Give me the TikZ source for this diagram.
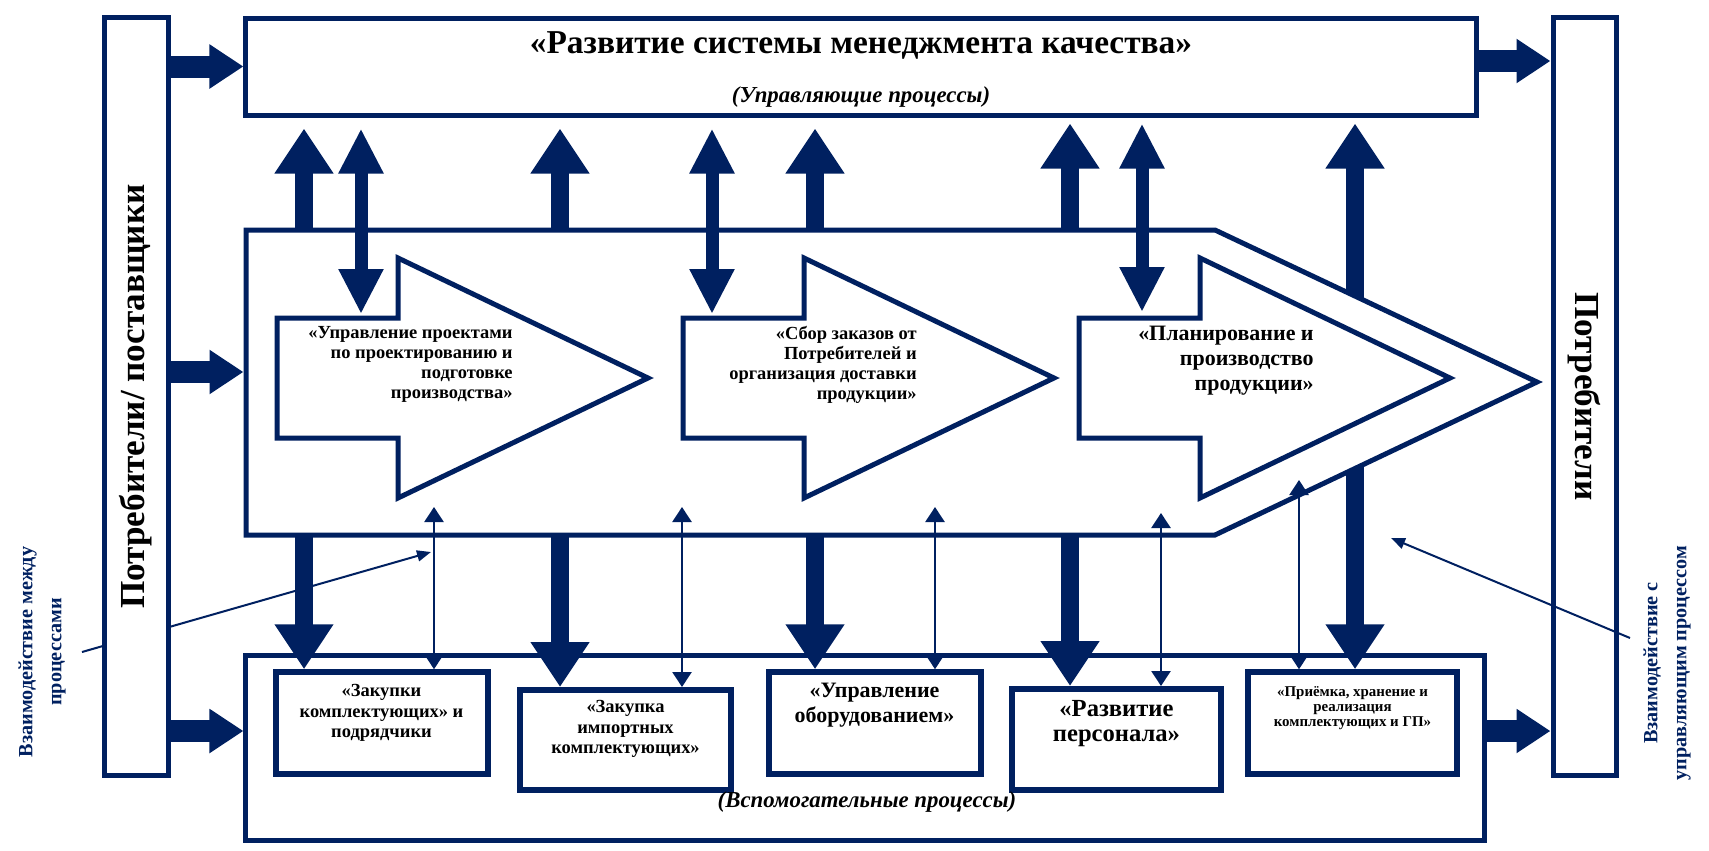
\documentclass[tikz,border=0pt]{standalone}
\usepackage{fontspec}
\setmainfont{Liberation Serif}
\usetikzlibrary{arrows.meta, positioning}

\definecolor{navy}{HTML}{002060}

\begin{document}
\begin{tikzpicture}[x = 0.2mm, y = -0.2mm,
    box/.style = {draw = navy, line width = 1mm, fill = white, inner sep = 0pt},
    inbox/.style = {draw = navy, line width = 1.2mm, fill = white, inner sep = 0pt, minimum width = 42.4mm, minimum height = 20.3mm},
    proc/.style = {draw = navy, line width = 1mm, fill = white, line join = miter},
    fat/.style = {navy, line width = 3.6mm, -{Triangle[width = 11.2mm, length = 9mm]}},
    wide/.style = {navy, line width = 4.4mm, -{Triangle[width = 8.4mm, length = 6.8mm]}},
    both/.style = {navy, line width = 2.6mm, {Triangle[width = 8.4mm, length = 9mm]}-{Triangle[width = 8.4mm, length = 9mm]}},
    link/.style = {navy, line width = 0.5mm, {Triangle[width = 3.8mm, length = 3mm]}-{Triangle[width = 3.8mm, length = 3mm]}},
    note/.style = {navy, line width = 0.4mm, -{Triangle[width = 2.2mm, length = 2.8mm]}},
    intext/.style = {align = center, inner sep = 0pt, font = \fontsize{10.5}{11.7}\selectfont\bfseries},
    proctext/.style = {align = right, inner sep = 0pt, anchor = north east, font = \fontsize{10.5}{11.4}\selectfont\bfseries}
    ]

    \useasboundingbox (0, 0) rectangle (1709, 851);

    \node[box, minimum width = 246mm, minimum height = 19.4mm] (top) at (861, 66.5) {};
    \node[box, minimum width = 247.6mm, minimum height = 37mm] (bottom) at (865, 747.5) {};

    \node[inbox] (zak) at (381.5, 723) {};
    \node[inbox, minimum width = 42.2mm, minimum height = 20mm] (imp) at (625.5, 740) {};
    \node[inbox] (obor) at (874.5, 723) {};
    \node[inbox, minimum width = 41.8mm, minimum height = 20.2mm] (pers) at (1116.5, 739.5) {};
    \node[inbox, minimum width = 41.8mm] (pri) at (1352.5, 723) {};

    \coordinate (u5) at (1355, 380);
    \draw[fat, shorten > = 1.2mm] (u5) -- (u5 |- top.south);
    \draw[fat] (u5) -- (u5 |- pri.north);

    \draw[proc] (246, 230) coordinate (m-tl) -- (1215, 230) coordinate (m-tr) -- (1537, 382) coordinate (m-tip)
        -- (1215, 535) coordinate (m-br) -- (246, 535) coordinate (m-bl) -- cycle;

    \draw[proc] (277, 318) -- (398, 318) -- (398, 258) -- (648, 378) -- (398, 498) -- (398, 438) -- (277, 438) -- cycle;
    \draw[proc] (683, 318) -- (804, 318) -- (804, 258) -- (1054, 378) -- (804, 498) -- (804, 438) -- (683, 438) -- cycle;
    \draw[proc] (1079, 318) -- (1200, 318) -- (1200, 258) -- (1450, 378) -- (1200, 498) -- (1200, 438) -- (1079, 438) -- cycle;

    \node[proctext] (proekt) at (513, 326) {«Управление проектами\\по проектированию и\\подготовке\\производства»};
    \node[proctext] (zakaz) at (917, 326) {«Сбор заказов от\\Потребителей и\\организация доставки\\продукции»};
    \node[proctext, font = \fontsize{12.5}{14.2}\selectfont\bfseries] (plan) at (1314, 326) {«Планирование и\\производство\\продукции»};

    \coordinate (u1) at (304, 535);
    \coordinate (u2) at (560, 535);
    \coordinate (u3) at (815, 535);
    \coordinate (u4) at (1070, 535);
    \draw[fat, shorten > = 2.2mm] (u1 |- m-tl) -- (u1 |- top.south);
    \draw[fat, shorten > = 2.2mm] (u2 |- m-tl) -- (u2 |- top.south);
    \draw[fat, shorten > = 2.2mm] (u3 |- m-tl) -- (u3 |- top.south);
    \draw[fat, shorten > = 1.2mm] (u4 |- m-tl) -- (u4 |- top.south);
    \draw[fat] (u1) -- (u1 |- zak.north);
    \draw[fat] (u2) -- (u2 |- imp.north);
    \draw[fat] (u3) -- (u3 |- obor.north);
    \draw[fat] (u4) -- (u4 |- pers.north);

    \coordinate (d1) at (361, 314);
    \coordinate (d2) at (712, 314);
    \coordinate (d3) at (1142, 312);
    \draw[both, shorten < = 2.2mm] (d1 |- top.south) -- (d1);
    \draw[both, shorten < = 2.2mm] (d2 |- top.south) -- (d2);
    \draw[both, shorten < = 1.2mm] (d3 |- top.south) -- (d3);

    \coordinate (t1) at (434, 507);
    \coordinate (t2) at (682, 507);
    \coordinate (t3) at (935, 507);
    \coordinate (t4) at (1161, 513);
    \coordinate (t5) at (1299, 480);
    \draw[link] (t1) -- (t1 |- zak.north);
    \draw[link] (t2) -- (t2 |- imp.north);
    \draw[link] (t3) -- (t3 |- obor.north);
    \draw[link] (t4) -- (t4 |- pers.north);
    \draw[link] (t5) -- (t5 |- pri.north);

    \coordinate (s1) at (82, 652);
    \coordinate (e1) at (431, 552);
    \draw[note] (s1) -- (e1);

    \node[box, minimum width = 12.8mm, minimum height = 151.4mm] (left) at (136, 396.5) {};
    \node[box, minimum width = 12.6mm, minimum height = 151.4mm] (right) at (1584.5, 396.5) {};
    \node[rotate = 90, font = \fontsize{20}{24}\selectfont\bfseries] (lefttxt) at (left) {Потребители/ поставщики};
    \node[rotate = -90, font = \fontsize{20}{24}\selectfont\bfseries] (righttxt) at (right) {Потребители};

    \coordinate (m-l) at (243.5, 372);
    \coordinate (b-l) at ([yshift = 3.3mm]bottom.west);
    \coordinate (t-r) at ([yshift = 1.1mm]top.east);
    \coordinate (b-r) at ([yshift = 3.3mm]bottom.east);
    \draw[wide] (left.east |- top.west) -- (top.west);
    \draw[wide] (left.east |- m-l) -- (m-l);
    \draw[wide] (left.east |- b-l) -- (b-l);
    \draw[wide] (t-r) -- (t-r -| right.west);
    \draw[wide] (b-r) -- (b-r -| right.west);

    \coordinate (s2) at (1630, 638);
    \coordinate (e2) at (1391, 538);
    \draw[note] (s2) -- (e2);

    \node[rotate = 90, navy, align = center, font = \fontsize{11.5}{16.5}\selectfont\bfseries] (vz1) at (42, 652) {Взаимодействие между\\процессами};
    \node[rotate = 90, navy, align = center, font = \fontsize{11.5}{16.5}\selectfont\bfseries] (vz2) at (1667, 663) {Взаимодействие с\\управляющим процессом};

    \node[font = \fontsize{19}{22}\selectfont\bfseries] (title) at (861, 45) {«Развитие системы менеджмента качества»};
    \node[font = \fontsize{13}{15}\selectfont\bfseries\itshape] (upr) at (861, 97) {(Управляющие процессы)};
    \node[font = \fontsize{13}{15}\selectfont\bfseries\itshape] (vsp) at (867, 802) {(Вспомогательные процессы)};

    \node[intext, below = 3mm of zak.north] (zaktxt) {«Закупки\\комплектующих» и\\подрядчики};
    \node[intext, below = 2.6mm of imp.north] (imptxt) {«Закупка\\импортных\\комплектующих»};
    \node[intext, font = \fontsize{12.5}{13.7}\selectfont\bfseries, below = 2.8mm of obor.north] (obortxt) {«Управление\\оборудованием»};
    \node[intext, font = \fontsize{14}{14.2}\selectfont\bfseries, below = 2.8mm of pers.north] (perstxt) {«Развитие\\персонала»};
    \node[intext, font = \fontsize{8.5}{8.5}\selectfont\bfseries, below = 3.4mm of pri.north] (pritxt) {«Приёмка, хранение и\\реализация\\комплектующих и ГП»};

\end{tikzpicture}
\end{document}
